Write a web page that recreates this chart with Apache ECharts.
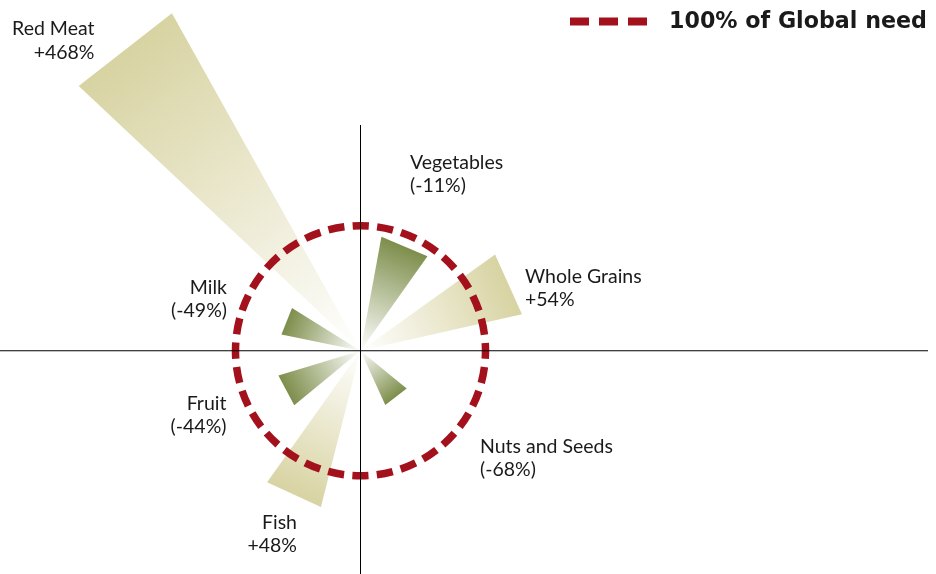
<!DOCTYPE html>
<html>
<head>
<meta charset="utf-8">
<script src="https://cdn.jsdelivr.net/npm/echarts@6/dist/echarts.min.js"></script>
<style>
  html, body { margin: 0; padding: 0; background: #fff; }
  #chart { width: 936px; height: 574px; }
</style>
</head>
<body>
<div id="chart"></div>
<script>
// Food groups and their consumption relative to 100% of global need
const categories = ['Vegetables', 'Whole Grains', 'Nuts and Seeds', 'Fish', 'Fruit', 'Milk', 'Red Meat'];
const changePct = [-11, 54, -68, 48, -44, -49, 468];
const legendLabel = '100% of Global need';

// Layout: spoke direction (degrees clockwise from north) and half opening angle
const spokeAngle = [22.85, 65.85, 142.3, 204.8, 241.9, 291.75, 322.0];
const spokeHalfWidth = [12.45, 11.45, 13.1, 10.6, 11.3, 10.15, 8.8];
// Label anchor relative to the polar centre, with text alignment
const labelOffset = [
  [49.5, -176.7, 'left'],
  [164.5, -62.5, 'left'],
  [119.5, 107.5, 'left'],
  [-63.5, 183.5, 'right'],
  [-134, 64.5, 'right'],
  [-133.5, -51.5, 'right'],
  [-266, -309.8, 'right']
];

const CX = 360.5, CY = 350.75;
const RING_PX = 125;       // pixel radius of the 100% ring
const R_MAX = 3.4;         // radius-axis extent, in multiples of global need
const RADIAL_EXP = 0.65;   // radial compression so the largest spoke fits the page

const colorOver = '#d8d3a2';
const colorUnder = '#7d8e4b';
const ringColor = '#a3121c';
const textColor = '#1a1a1a';
const labelFont = '19.5px Lato';

const share = changePct.map(p => 1 + p / 100);
const radial = share.map(s => Math.pow(s, RADIAL_EXP));

function labelText(i) {
  const p = changePct[i];
  return categories[i] + '\n' + (p >= 0 ? '+' + p + '%' : '(' + p + '%)');
}

function hexToRgba(hex, a) {
  const n = parseInt(hex.slice(1), 16);
  return 'rgba(' + ((n >> 16) & 255) + ',' + ((n >> 8) & 255) + ',' + (n & 255) + ',' + a + ')';
}

function renderSpoke(params, api) {
  const i = api.value(2);
  const r = api.value(0);
  const a = api.value(1);
  const h = spokeHalfWidth[i];
  const c = api.coord([0, a]);
  const p1 = api.coord([r, a - h]);
  const p2 = api.coord([r, a + h]);
  const mid = [(p1[0] + p2[0]) / 2, (p1[1] + p2[1]) / 2];
  const col = changePct[i] >= 0 ? colorOver : colorUnder;
  const fill = new echarts.graphic.LinearGradient(
    c[0], c[1], mid[0], mid[1],
    [{ offset: 0, color: hexToRgba(col, 0) }, { offset: 1, color: col }],
    true
  );
  const off = labelOffset[i];
  return {
    type: 'group',
    children: [
      { type: 'polygon', shape: { points: [c, p1, p2] }, style: { fill: fill } },
      {
        type: 'text',
        x: c[0] + off[0],
        y: c[1] + off[1],
        style: {
          text: labelText(i),
          align: off[2],
          verticalAlign: 'middle',
          font: labelFont,
          lineHeight: 23.5,
          fill: textColor
        }
      }
    ]
  };
}

function renderRing(params, api) {
  const c = api.coord([0, 0]);
  const e = api.coord([api.value(0), 90]);
  const r = Math.hypot(e[0] - c[0], e[1] - c[1]);
  const period = 2 * Math.PI * r / 32;
  const dash = period * 0.66;
  return {
    type: 'circle',
    shape: { cx: c[0], cy: c[1], r: r },
    style: {
      fill: 'none',
      stroke: ringColor,
      lineWidth: 7.5,
      lineDash: [dash, period - dash],
      lineDashOffset: dash / 2
    }
  };
}

const chart = echarts.init(document.getElementById('chart'), null, { renderer: 'canvas' });

chart.setOption({
  animation: false,
  backgroundColor: '#fff',
  polar: { center: [CX, CY], radius: R_MAX * RING_PX },
  angleAxis: {
    type: 'value', min: 0, max: 360, startAngle: 90, clockwise: true, show: false
  },
  radiusAxis: { type: 'value', min: 0, max: R_MAX, show: false },
  series: [
    {
      type: 'custom',
      coordinateSystem: 'polar',
      silent: true,
      z: 2,
      dimensions: ['radius', 'angle', 'idx'],
      encode: { radius: 0, angle: 1 },
      data: categories.map((_, i) => [radial[i], spokeAngle[i], i]),
      renderItem: renderSpoke
    },
    {
      type: 'custom',
      coordinateSystem: 'polar',
      silent: true,
      z: 3,
      dimensions: ['radius', 'angle'],
      encode: { radius: 0, angle: 1 },
      data: [[1, 0]],
      renderItem: renderRing
    }
  ],
  graphic: [
    {
      type: 'line', z: 100, silent: true,
      shape: { x1: 0, y1: CY, x2: 928, y2: CY },
      style: { stroke: '#000', lineWidth: 1 }
    },
    {
      type: 'line', z: 100, silent: true,
      shape: { x1: CX, y1: 125, x2: CX, y2: 574 },
      style: { stroke: '#000', lineWidth: 1 }
    },
    {
      type: 'line', z: 100, silent: true,
      shape: { x1: 570, y1: 21.5, x2: 647, y2: 21.5 },
      style: { stroke: ringColor, lineWidth: 8, lineDash: [19, 10] }
    },
    {
      type: 'text', z: 100, silent: true,
      x: 669, y: 22.5,
      style: {
        text: legendLabel,
        font: 'bold 22.2px "DejaVu Sans"',
        verticalAlign: 'middle',
        fill: textColor
      }
    }
  ]
});
</script>
</body>
</html>
